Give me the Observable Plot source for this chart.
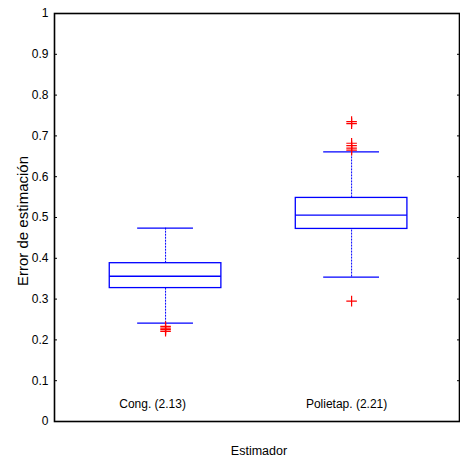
<!DOCTYPE html>
<html><head><meta charset="utf-8">
<script src="https://cdn.jsdelivr.net/npm/d3@7"></script>
<script src="https://cdn.jsdelivr.net/npm/@observablehq/plot@0.6"></script>
<style>body{margin:0;background:#fff}</style>
</head><body><div id="chart"></div>
<script>
const categories = ["Cong. (2.13)", "Polietap. (2.21)"];
const positions = [1, 2];
const q1 = [0.327, 0.472];
const median = [0.356, 0.506];
const q3 = [0.388, 0.548];
const whiskerLow = [0.241, 0.354];
const whiskerHigh = [0.474, 0.661];
const outliers = [
  [0.233, 0.229, 0.225, 0.221],
  [0.295, 0.665, 0.670, 0.676, 0.682, 0.730, 0.735]
];
const yTicks = [0, 0.1, 0.2, 0.3, 0.4, 0.5, 0.6, 0.7, 0.8, 0.9, 1];

const boxes = categories.map((c, i) => ({c, x: positions[i], q1: q1[i], med: median[i], q3: q3[i], lo: whiskerLow[i], hi: whiskerHigh[i]}));
const outs = outliers.flatMap((arr, i) => arr.map(v => ({x: positions[i], y: v})));
const bw = 0.3, cw = 0.15;
const blue = "#0000ff";
const labelShift = [-13, -5];

const chart = Plot.plot({
  width: 460, height: 462,
  marginLeft: 54, marginRight: 1, marginTop: 13, marginBottom: 41,
  style: {fontFamily: "Liberation Sans, Arial, sans-serif", fontSize: "12px", color: "#000", background: "#fff"},
  x: {domain: [0.403, 2.58], axis: null},
  y: {domain: [0, 1], ticks: yTicks, label: null},
  marks: [
    Plot.ruleX(boxes, {x: "x", y1: "lo", y2: "q1", stroke: blue, strokeWidth: 1, strokeDasharray: "2,1"}),
    Plot.ruleX(boxes, {x: "x", y1: "q3", y2: "hi", stroke: blue, strokeWidth: 1, strokeDasharray: "2,1"}),
    Plot.ruleY(boxes, {y: "lo", x1: d => d.x - cw, x2: d => d.x + cw, stroke: blue, strokeWidth: 1.3}),
    Plot.ruleY(boxes, {y: "hi", x1: d => d.x - cw, x2: d => d.x + cw, stroke: blue, strokeWidth: 1.3}),
    Plot.rect(boxes, {x1: d => d.x - bw, x2: d => d.x + bw, y1: "q1", y2: "q3", stroke: blue, fill: "none", strokeWidth: 1.3}),
    Plot.ruleY(boxes, {y: "med", x1: d => d.x - bw, x2: d => d.x + bw, stroke: blue, strokeWidth: 1.3}),
    Plot.dot(outs, {x: "x", y: "y", symbol: "plus", r: 3.5, stroke: "red", fill: "none", strokeWidth: 1.2}),
    Plot.text(boxes.map((b, i) => ({...b, dx: labelShift[i]})), {x: d => d.x, y: 0.042, text: "c", fontSize: 12, fill: "#000",
      render: (index, scales, values, dims, ctx, next) => {
        const g = next(index, scales, values, dims, ctx);
        d3.select(g).selectAll("text").attr("transform", function(_, j) {
          const t = d3.select(this).attr("transform") || "";
          return t + ` translate(${labelShift[index[j]]},0)`;
        });
        return g;
      }}),
    Plot.axisY({ticks: yTicks, tickSize: -3, tickPadding: 9, tickFormat: d => String(d), fontSize: 12, label: null}),
    Plot.axisY({ticks: yTicks, anchor: "right", tickSize: -3, tickFormat: () => "", label: null}),
    Plot.frame({stroke: "#000", strokeWidth: 1.6})
  ]
});
const svg = d3.select(chart);
svg.append("text").attr("x", 259).attr("y", 455).attr("text-anchor", "middle")
  .style("font-family", "Liberation Sans, Arial, sans-serif").style("font-size", "12.5px").text("Estimador");
svg.append("text").attr("transform", "translate(28,221) rotate(-90)").attr("text-anchor", "middle")
  .style("font-family", "Liberation Sans, Arial, sans-serif").style("font-size", "15px").text("Error de estimación");
document.getElementById("chart").appendChild(chart);
</script></body></html>
